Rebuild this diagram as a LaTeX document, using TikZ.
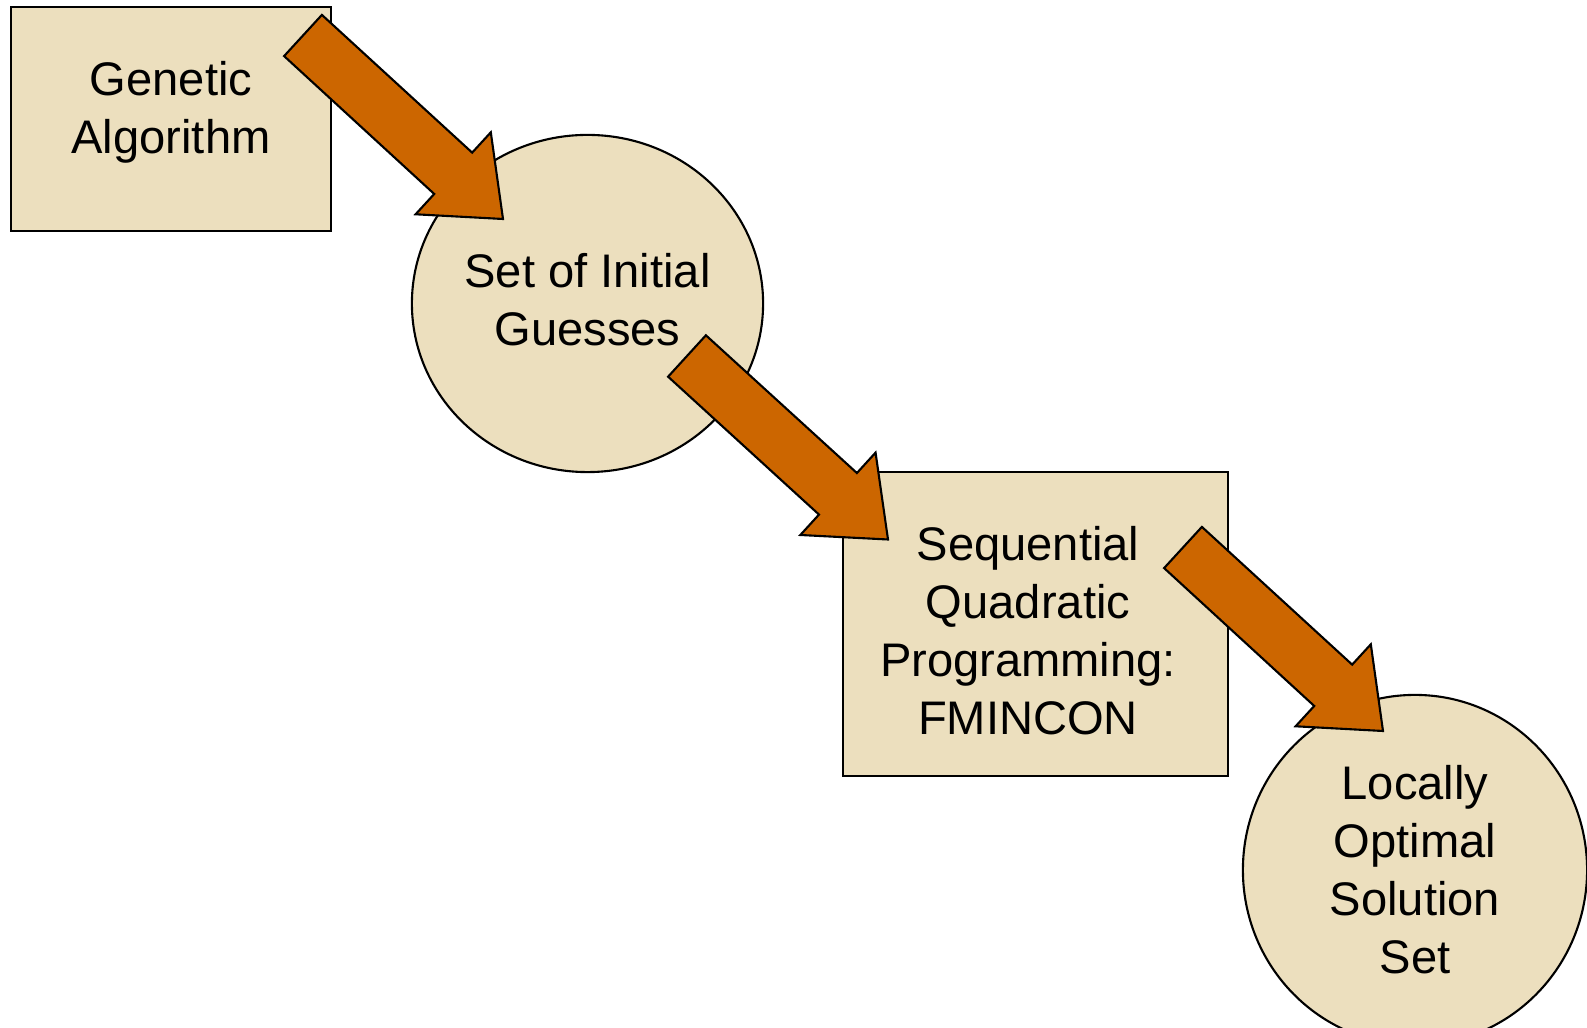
\documentclass[tikz,border=0pt]{standalone}
\usepackage{fontspec}
\setmainfont{Liberation Sans}
\usetikzlibrary{calc}
\usetikzlibrary{shapes.geometric}
\definecolor{parchment}{RGB}{236,223,190}
\definecolor{rust}{RGB}{204,102,0}
\tikzset{stepbox/.style={draw=black,line width=0.6pt,fill=parchment,rectangle,inner sep=0pt,align=center,font=\fontsize{13.4}{16.5}\selectfont}}
\tikzset{setoval/.style={draw=black,line width=0.6pt,fill=parchment,ellipse,inner sep=0pt,align=center,font=\fontsize{13.4}{16.5}\selectfont}}
\tikzset{blockarrow/.style={draw=black,line width=0.6pt,fill=rust,line join=miter}}
% fat arrow from #1 (tail middle) to #2 (tip)
\newcommand{\blockarrow}[2]{%
  \path (#1) -- (#2) coordinate[pos=0.751] (neck);
  \draw[blockarrow] ($(#1)!0.103!90:(#2)$) -- ($(neck)!0.415!90:(#2)$) -- ($(neck)!0.823!90:(#2)$) -- (#2) -- ($(neck)!0.823!-90:(#2)$) -- ($(neck)!0.415!-90:(#2)$) -- ($(#1)!0.103!-90:(#2)$) -- cycle;}
\newcommand{\lpad}{\rule{0.15cm}{0pt}}

\begin{document}
\begin{tikzpicture}[x=0.01cm,y=-0.01cm]
      \useasboundingbox (0,0) rectangle (1587,1028);
      \clip (0,0) rectangle (1587,1028);

      \node[stepbox,minimum width=3.20cm,minimum height=2.24cm] at (171,119) (ga) {Genetic\\Algorithm\rule[-0.24cm]{0pt}{0pt}};
      \node[setoval,minimum width=3.51cm,minimum height=3.37cm] at (587.5,303.5) (guess) {Set of Initial\\Guesses\rule[-0.08cm]{0pt}{0pt}};
      \node[stepbox,minimum width=3.85cm,minimum height=3.04cm] at (1035.5,624) (sqp) {\rule{0pt}{0.48cm}Sequential\lpad\\Quadratic\lpad\\Programming:\lpad\\FMINCON\lpad};
      \node[setoval,minimum width=3.44cm,minimum height=3.50cm] at (1415,870) (opt) {Locally\\Optimal\\Solution\\Set};

      \coordinate (a1s) at (303,35.5);
      \coordinate (a1e) at (503,219);
      \coordinate (a2s) at (687,356);
      \coordinate (a2e) at (888,539.5);
      \coordinate (a3s) at (1183,547.5);
      \coordinate (a3e) at (1383,731);

      \blockarrow{a1s}{a1e}
      \blockarrow{a2s}{a2e}
      \blockarrow{a3s}{a3e}
\end{tikzpicture}
\end{document}
